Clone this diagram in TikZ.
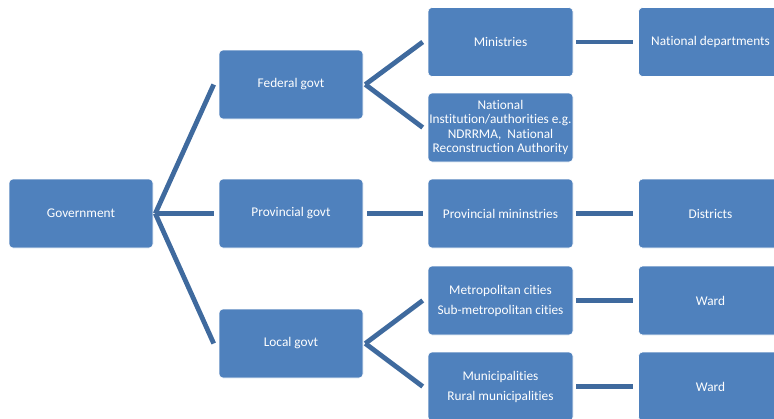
\documentclass[tikz,border=0pt]{standalone}
\usepackage{fontspec}
\setmainfont{Carlito}[Ligatures=NoCommon]
\usetikzlibrary{calc}
\definecolor{boxblue}{HTML}{4F81BD}
\definecolor{linkblue}{HTML}{3F6A9E}
\tikzset{
  orgbox/.style={draw=white, line width=0.6pt, fill=boxblue, rounded corners=4pt,
    minimum width=144pt, minimum height=69pt, inner sep=1pt, text=white,
    font=\fontsize{13.3pt}{14.5pt}\selectfont, align=center},
  link/.style={draw=linkblue, line width=4.8pt, line cap=butt}
}
\begin{document}
\begin{tikzpicture}[x=1pt,y=-1pt]
\useasboundingbox (0,0) rectangle (774,418);
\clip (0,0) rectangle (774,418);
\node[orgbox] (gov) at (81,213.5) {Government};
\node[orgbox] (fed) at (291,84.5) {Federal govt};
\node[orgbox] (prov) at (291,213.5) {Provincial govt};
\node[orgbox] (loc) at (291,343.5) {Local govt};
\node[orgbox, minimum width=145pt] (min) at (500.5,42) {Ministries};
\node[orgbox, minimum width=145pt] (inst) at (500.5,127.5) {National\\Institution/authorities e.g.\\NDRRMA,\ \ National\\Reconstruction Authority};
\node[orgbox, minimum width=145pt] (pmin) at (500.5,213.5) {Provincial mininstries};
\node[orgbox, minimum width=145pt, font=\fontsize{13.3pt}{20pt}\selectfont] (metro) at (500.5,300.5) {Metropolitan cities\\Sub-metropolitan cities};
\node[orgbox, minimum width=145pt, font=\fontsize{13.3pt}{20pt}\selectfont] (muni) at (500.5,386.5) {Municipalities\\Rural municipalities};
\node[orgbox] (ndep) at (710.5,42) {National departments};
\node[orgbox] (dist) at (710.5,213.5) {Districts};
\node[orgbox] (ward1) at (710.5,300.5) {Ward};
\node[orgbox] (ward2) at (710.5,386.5) {Ward};

\coordinate (ga) at ($(gov.east)+(2,0)$);
\draw[link] (ga) -- ($(fed.west)+(-5,0)$);
\draw[link] (ga) -- ($(prov.west)+(-5,0)$);
\draw[link] (ga) -- ($(loc.west)+(-5,0)$);

\coordinate (fa) at ($(fed.east)+(2,0)$);
\draw[link] (fa) -- ($(min.west)+(-5,0)$);
\draw[link] (fa) -- ($(inst.west)+(-5,0)$);

\draw[link] ($(prov.east)+(4,0)$) -- ($(pmin.west)+(-5,0)$);

\coordinate (la) at ($(loc.east)+(2,0)$);
\draw[link] (la) -- ($(metro.west)+(-5,0)$);
\draw[link] (la) -- ($(muni.west)+(-5,0)$);

\draw[link] ($(min.east)+(3,0)$) -- ($(ndep.west)+(-5,0)$);
\draw[link] ($(pmin.east)+(3,0)$) -- ($(dist.west)+(-5,0)$);
\draw[link] ($(metro.east)+(3,0)$) -- ($(ward1.west)+(-5,0)$);
\draw[link] ($(muni.east)+(3,0)$) -- ($(ward2.west)+(-5,0)$);
\end{tikzpicture}
\end{document}
